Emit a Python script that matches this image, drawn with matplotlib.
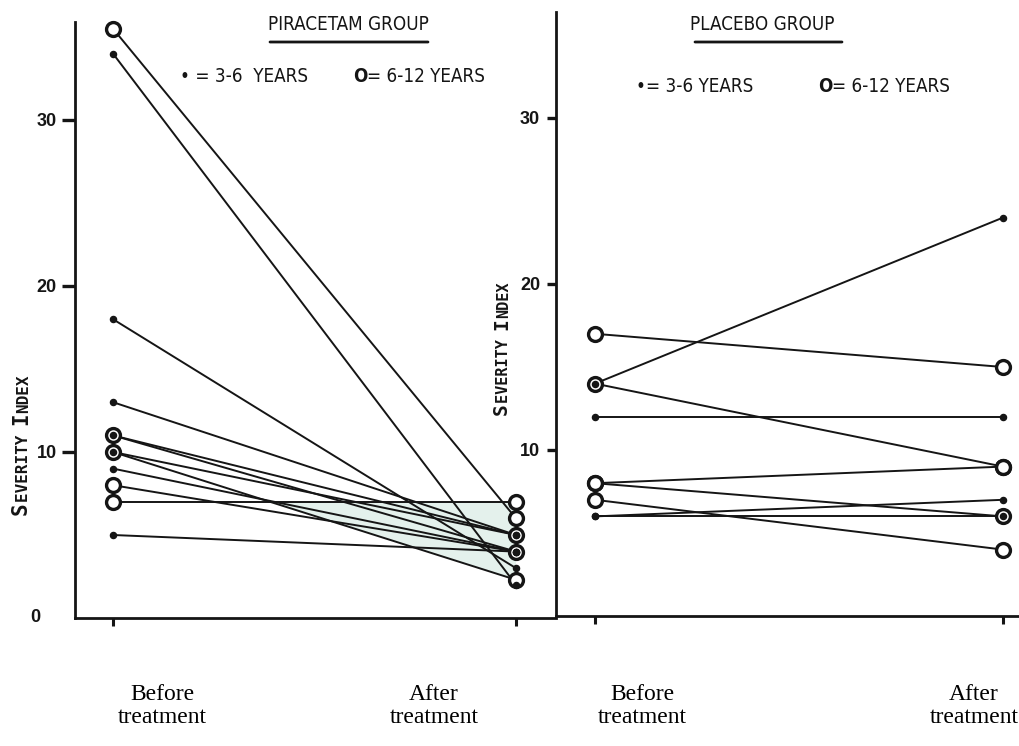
import numpy as np
import matplotlib
matplotlib.use('Agg')
import matplotlib.pyplot as plt

W, H = 1020, 746

# severity index per child: (before, after, age group)
pira_before = [35.5, 34, 18, 13, 11, 11, 10, 10, 9, 8, 7, 5]
pira_after = [6, 2, 3, 5, 5, 4, 2.3, 5, 4, 4, 7, 4]
pira_group = ['6-12', '3-6', '3-6', '3-6', '6-12', '3-6',
              '6-12', '3-6', '3-6', '6-12', '6-12', '3-6']

plac_before = [17, 14, 14, 12, 8, 8, 7, 6, 6]
plac_after = [15, 24, 9, 12, 9, 6, 4, 7, 6]
plac_group = ['6-12', '3-6', '6-12', '3-6', '6-12', '6-12', '6-12', '3-6', '3-6']

phase_labels = ['Before\ntreatment', 'After\ntreatment']
y_ticks = [10, 20, 30]

ink = '#151515'
shade = '#e4f1ec'
cond = dict(family='DejaVu Sans', stretch='condensed', color=ink)


def fp(x, y):
    """top-left pixel position -> figure pixels"""
    return (x, H - y)


def draw_pairs(ax, before, after, group):
    for b, a, g in zip(before, after, group):
        ax.plot([0, 1], [b, a], color=ink, lw=1.4, zorder=2, clip_on=False)
    for b, a, g in zip(before, after, group):
        if g == '6-12':
            ax.plot([0, 1], [b, a], ls='none', marker='o', ms=10, mfc='white',
                    mec=ink, mew=2.4, zorder=3, clip_on=False)
    for b, a, g in zip(before, after, group):
        if g == '3-6':
            ax.plot([0, 1], [b, a], ls='none', marker='o', ms=4.4, mfc=ink,
                    mec=ink, zorder=4, clip_on=False)


def style_axes(ax, ticklen, pad):
    for s in ['top', 'right']:
        ax.spines[s].set_visible(False)
    for s in ['left', 'bottom']:
        ax.spines[s].set_linewidth(2)
        ax.spines[s].set_color(ink)
    ax.set_xticks([0, 1])
    ax.set_xticklabels([])
    ax.tick_params(axis='x', direction='out', length=6, width=2.2, color=ink)
    ax.set_yticks(y_ticks)
    ax.set_yticklabels([str(v) for v in y_ticks], fontsize=13,
                       fontweight='bold', family='Liberation Sans', color=ink)
    ax.tick_params(axis='y', direction='out', length=ticklen, width=2.4,
                   pad=pad, color=ink)
    ax.set_facecolor('none')


def ylabel_smallcaps(ax, x, y, size_big, size_small):
    parts = [('S', size_big), ('EVERITY ', size_small),
             ('I', size_big), ('NDEX', size_small)]
    prev = None
    for txt, size in parts:
        if prev is None:
            xy, coords = fp(x, y), 'figure pixels'
        else:
            xy, coords = (1, 1), prev
        prev = ax.annotate(txt, xy=xy, xycoords=coords, rotation=90,
                           ha='right', va='bottom', fontsize=size,
                           family='DejaVu Sans Mono', fontweight='bold',
                           color=ink, annotation_clip=False)


def age_key(ax, x, y, text, bold_lead):
    lead = ax.annotate(text[0], xy=fp(x, y), xycoords='figure pixels',
                       ha='left', va='center', fontsize=13.5,
                       fontweight='bold' if bold_lead else 'normal', **cond)
    ax.annotate(text[1:], xy=(1, 0), xycoords=lead, ha='left', va='bottom',
                fontsize=13.5, **cond)


fig = plt.figure(figsize=(W / 100, H / 100), dpi=100)
fig.patch.set_facecolor('white')

# piracetam panel
ax1 = fig.add_axes([75 / W, (H - 618) / H, 481 / W, 596 / H])
ax1.set_xlim(-38 / 403, 443 / 403)
ax1.set_ylim(0, 596 / 16.6)
style_axes(ax1, ticklen=9.5, pad=3.5)

# shaded wedge between the 7 -> 7 line and the 10 -> 2.3 line
top_b, top_a = pira_before[10], pira_after[10]
bot_b, bot_a = pira_before[6], pira_after[6]
t_cross = (bot_b - top_b) / ((bot_b - bot_a) - (top_b - top_a))
ax1.fill([t_cross, 1, 1], [top_b + (top_a - top_b) * t_cross, top_a, bot_a],
         color=shade, lw=0, zorder=1)

draw_pairs(ax1, pira_before, pira_after, pira_group)

# placebo panel
ax2 = fig.add_axes([556 / W, (H - 616) / H, 464 / W, 604 / H])
ax2.set_xlim(-39 / 408, 425 / 408)
ax2.set_ylim(0, 604 / 16.6)
style_axes(ax2, ticklen=6.5, pad=5)
draw_pairs(ax2, plac_before, plac_after, plac_group)

# zero label sits apart from the other tick labels
ax1.annotate('0', xy=fp(35, 618), xycoords='figure pixels', ha='center',
             va='center', fontsize=13, fontweight='bold',
             family='Liberation Sans', color=ink)

# group titles with underline
for ax, title, cx, x0, x1 in [(ax1, 'PIRACETAM GROUP', 348, 270, 428),
                              (ax2, 'PLACEBO GROUP', 762, 695, 842)]:
    ax.annotate(title, xy=fp(cx, 25), xycoords='figure pixels', ha='center',
                va='center', fontsize=13.5, **cond)
    ax.annotate('', xy=fp(x0, 42), xytext=fp(x1, 42),
                xycoords='figure pixels', textcoords='figure pixels',
                arrowprops=dict(arrowstyle='-', lw=2, color=ink,
                                shrinkA=0, shrinkB=0))

# age group keys
age_key(ax1, 180, 77, '\u2022 = 3-6  YEARS', False)
age_key(ax1, 353, 77, 'O= 6-12 YEARS', True)
age_key(ax2, 636, 87, '\u2022= 3-6 YEARS', False)
age_key(ax2, 818, 87, 'O= 6-12 YEARS', True)

ylabel_smallcaps(ax1, 31, 515, 15, 11.5)
ylabel_smallcaps(ax2, 511, 415, 14, 11)

# phase captions under each panel
for cx, lab in zip([162, 434, 642, 974], phase_labels * 2):
    ax1.annotate(lab, xy=fp(cx, 706), xycoords='figure pixels', ha='center',
                 va='center', fontsize=17, family='Liberation Serif',
                 linespacing=1.15, color='black', annotation_clip=False)

fig.savefig('out.png', dpi=100)
